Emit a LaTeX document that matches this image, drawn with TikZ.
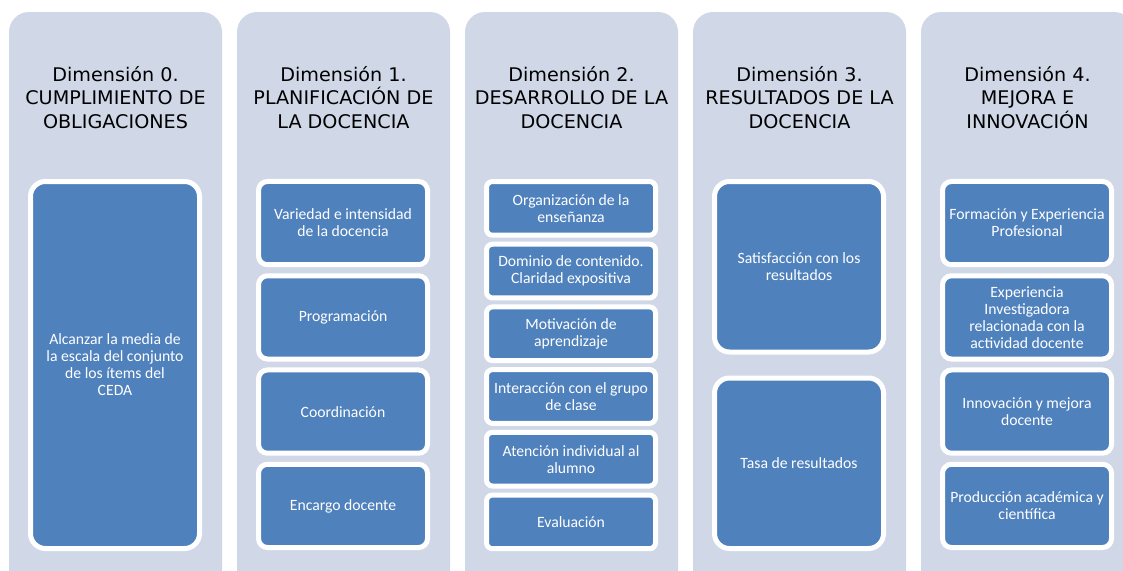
\documentclass[tikz,border=0pt]{standalone}
\usepackage{fontspec}
\setmainfont{Carlito}
\newfontfamily\titlefont[FakeStretch=1.02]{DejaVu Sans}
\definecolor{panelc}{HTML}{D0D8E8}
\definecolor{boxc}{HTML}{4F81BD}
\tikzset{
  panel/.style={fill=panelc, draw=none, rounded corners=20pt},
  ttl/.style={font=\titlefont\fontsize{18.8}{23.2}\selectfont, align=center, text=black, inner sep=0pt},
  item/.style={fill=boxc, draw=white, line width=5pt, text=white, align=center,
    font=\fontsize{15.7}{17}\selectfont, inner sep=0pt, minimum width=169pt},
}
\begin{document}
\begin{tikzpicture}[x=1pt,y=-1pt]
\useasboundingbox (0,0) rectangle (1123,570);
\clip (0,0) rectangle (1123,570);
% panels
\foreach \k in {0,...,4}{
  \fill[panel] (9+228*\k,12) rectangle (222+228*\k,590);
}
% titles
\node[ttl] (t0) at (115.5,97.5) {Dimensión 0.\\CUMPLIMIENTO DE\\OBLIGACIONES};
\node[ttl] (t1) at (343.5,97.5) {Dimensión 1.\\PLANIFICACIÓN DE\\LA DOCENCIA};
\node[ttl] (t2) at (571.5,97.5) {Dimensión 2.\\DESARROLLO DE LA\\DOCENCIA};
\node[ttl] (t3) at (799.5,97.5) {Dimensión 3.\\RESULTADOS DE LA\\DOCENCIA};
\node[ttl] (t4) at (1027.5,97.5) {Dimensión 4.\\MEJORA E\\INNOVACIÓN};
% column 0
\node[item, minimum height=367pt, rounded corners=15pt] (a1) at (115,365)
  {Alcanzar la media de\\la escala del conjunto\\de los ítems del\\CEDA};
% column 1
\tikzset{c14/.style={item, minimum height=83.25pt, rounded corners=9pt}}
\node[c14] (b1) at (343,223.1) {Variedad e intensidad\\de la docencia};
\node[c14] (b2) at (343,317.4) {Programación};
\node[c14] (b3) at (343,411.6) {Coordinación};
\node[c14] (b4) at (343,505.9) {Encargo docente};
% column 2
\tikzset{c2/.style={item, minimum height=53.7pt, rounded corners=6pt}}
\node[c2] (c1) at (571,208.35) {Organización de la\\enseñanza};
\node[c2] (c2) at (571,271.05) {Dominio de contenido.\\Claridad expositiva};
\node[c2] (c3) at (571,333.75) {Motivación de\\aprendizaje};
\node[c2] (c4) at (571,396.45) {Interacción con el grupo\\de clase};
\node[c2] (c5) at (571,459.15) {Atención individual al\\alumno};
\node[c2] (c6) at (571,521.85) {Evaluación};
% column 3
\tikzset{c3/.style={item, minimum height=170.5pt, rounded corners=15pt}}
\node[c3] (d1) at (799,266.75) {Satisfacción con los\\resultados};
\node[c3] (d2) at (799,463.25) {Tasa de resultados};
% column 4
\node[c14] (e1) at (1027,223.1) {Formación y Experiencia\\Profesional};
\node[c14] (e2) at (1027,317.4) {Experiencia\\Investigadora\\relacionada con la\\actividad docente};
\node[c14] (e3) at (1027,411.6) {Innovación y mejora\\docente};
\node[c14] (e4) at (1027,505.9) {Producción académica y\\científica};
\end{tikzpicture}
\end{document}
